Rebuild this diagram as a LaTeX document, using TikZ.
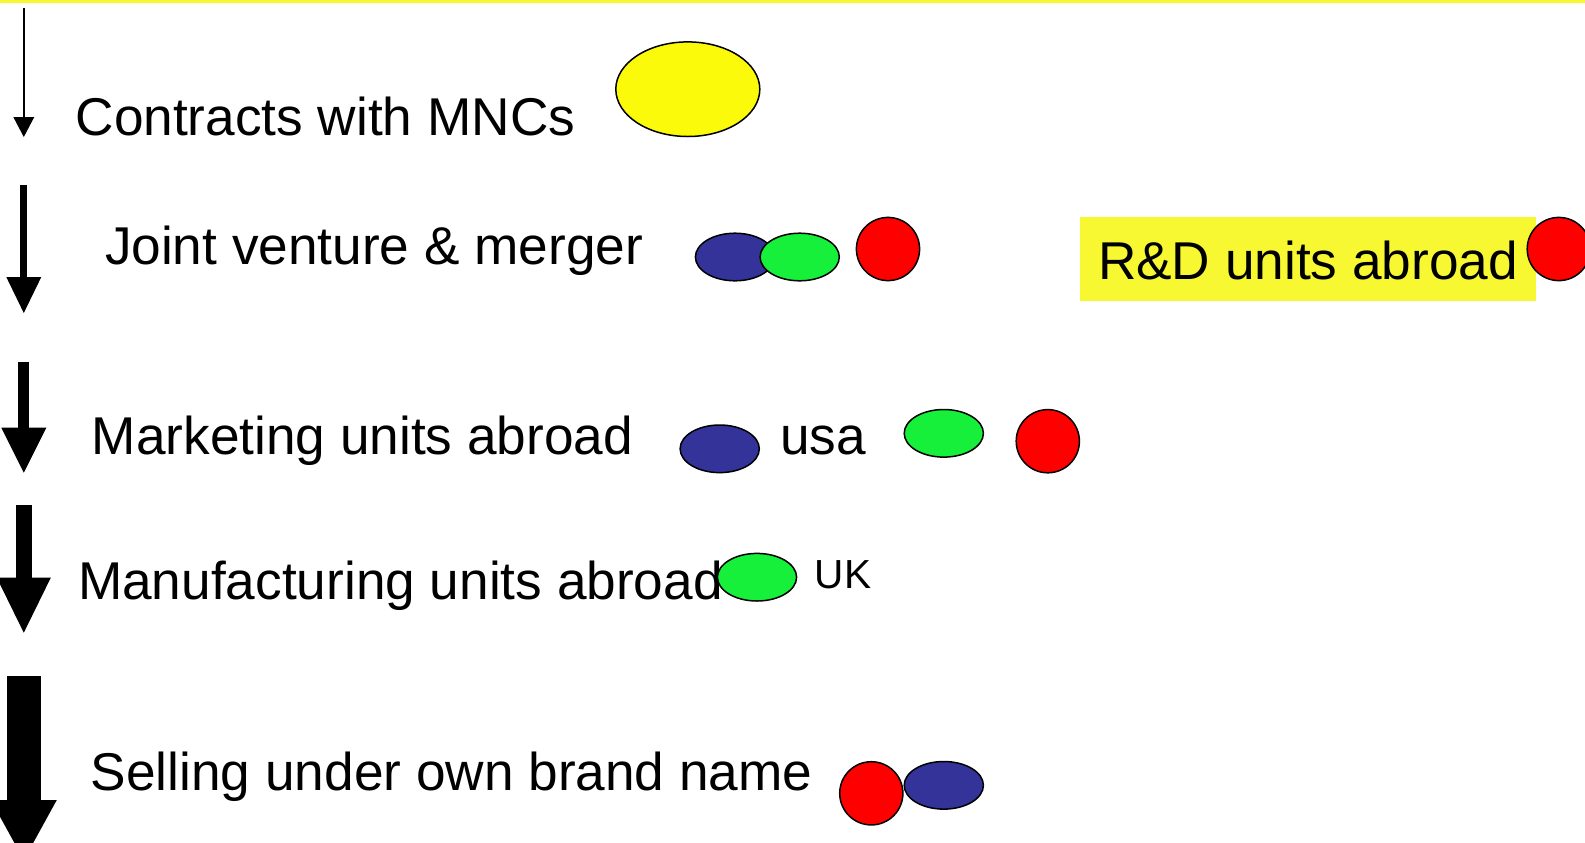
\documentclass[tikz,border=0pt]{standalone}
\usepackage{fontspec}
\setmainfont{Liberation Sans}
\usetikzlibrary{shapes.geometric,arrows.meta}

\definecolor{hilite}{RGB}{247,247,50}
\definecolor{markyellow}{RGB}{250,250,10}
\definecolor{unitblue}{RGB}{51,51,153}
\definecolor{unitgreen}{RGB}{22,240,58}
\definecolor{unitred}{RGB}{255,0,0}

\begin{document}
\begin{tikzpicture}[
    x=0.5pt, y=-0.5pt,
    mode/.style={anchor=base west,inner sep=0pt,font=\fontsize{26.6}{31}\selectfont},
    oval/.style={ellipse,draw,line width=0.75pt,inner sep=0pt,minimum width=39.6pt,minimum height=23.8pt},
    dot/.style={circle,draw,line width=0.75pt,inner sep=0pt,minimum size=31.6pt}
]

\useasboundingbox (0,0) rectangle (1585,842);
\clip (0,0) rectangle (1585,842);

% yellow rule along the top
\fill[hilite] (0,0) rectangle (1585,2.7);

% arrows on the left, getting fatter going down
\foreach \ya/\yb/\shaft/\hw/\hl in {8/137/0.7pt/10.5pt/10pt, 185/313/3.35pt/17.5pt/18pt, 361.7/472.7/5.5pt/22.5pt/22.5pt, 505/632.7/7.85pt/27pt/27.5pt, 676/860/17pt/33pt/30pt} {
    \draw[line width=\shaft,-{Triangle[width=\hw,length=\hl,line width=0pt]}] (23.8,\ya) -- (23.8,\yb);
}

% the modes of going abroad
\node[mode] (contracts) at (75.2,135) {Contracts with MNCs};
\node[mode] (joint) at (104.6,264.3) {Joint venture \& merger};
\node[mode] (marketing) at (91.5,454.5) {Marketing units abroad};
\node[mode] (manufacturing) at (77.7,599) {Manufacturing units abroad};
\node[mode] (selling) at (90.5,790.5) {Selling under own brand name};
\node[mode,fill=hilite,inner xsep=8.8pt,text height=31.3pt,text depth=10.7pt] (rnd) at (1080,279.3) {R\&D units abroad};

% country tags
\node[mode] (usa) at (780,454.5) {usa};
\node[mode,font=\fontsize{20.3}{24}\selectfont] (uk) at (814.5,588.3) {UK};

% firms
\node[oval,fill=markyellow,minimum width=72pt,minimum height=47.3pt] (mnc) at (687.8,89.2) {};

\node[oval,fill=unitblue] (jvblue) at (735,257) {};
\node[oval,fill=unitgreen] (jvgreen) at (799.7,257) {};
\node[dot,fill=unitred] (jvred) at (888,249) {};

\node[dot,fill=unitred] (rndred) at (1558.8,249) {};

\node[oval,fill=unitblue] (mktblue) at (719.7,448.8) {};
\node[oval,fill=unitgreen] (mktgreen) at (943.8,433.3) {};
\node[dot,fill=unitred] (mktred) at (1047.8,441.2) {};

\node[oval,fill=unitgreen] (mfggreen) at (757,577.2) {};

\node[dot,fill=unitred] (sellred) at (871.3,793.3) {};
\node[oval,fill=unitblue] (sellblue) at (943.8,785.3) {};

\end{tikzpicture}
\end{document}
